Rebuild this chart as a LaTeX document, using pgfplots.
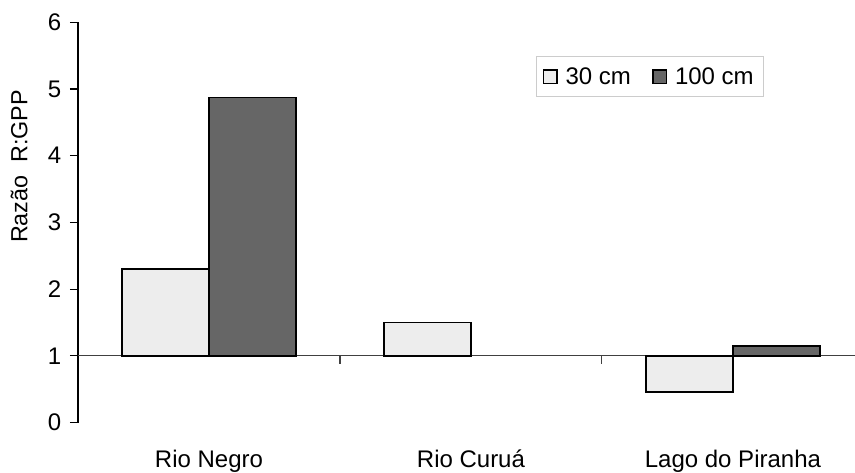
\documentclass[border=0pt]{standalone}
\usepackage{pgfplots}
\pgfplotsset{compat=1.18}
\usepackage{fontspec}
\setmainfont{Liberation Sans}
\begin{document}
\begin{tikzpicture}
\useasboundingbox (-58.5pt,-37pt) rectangle (582.75pt,317pt);
\begin{axis}[
  at={(0,0)}, anchor=south west,
  scale only axis,
  width=582.75pt, height=300.3pt,
  font=\fontsize{18}{21}\selectfont,
  y coord trafo/.code={\pgfmathparse{#1-1}},
  y coord inv trafo/.code={\pgfmathparse{#1+1}},
  ymin=0, ymax=6,
  xmin=-0.5, xmax=2.466,
  ytick={0,1,2,3,4,5,6},
  yticklabels={0,1,2,3,4,5,6},
  xtick={0,1,2},
  xticklabels={Rio Negro, Rio Curuá, Lago do Piranha},
  axis x line*=bottom,
  axis y line*=left,
  x axis line style={draw=none},
  y axis line style={-, line width=0.8pt},
  xtick style={draw=none},
  ytick style={line width=0.8pt, black},
  tick align=outside,
  major tick length=6pt,
  xticklabel style={yshift=-11pt},
  yticklabel style={xshift=-3pt},
  ylabel={Razão\ \ R:GPP},
  y label style={at={(axis description cs:-0.0759,0.64)}, anchor=center, rotate=0,
    font=\fontsize{17.5}{20}\selectfont},
  ybar,
  bar width=0.332,
  legend columns=2,
  legend style={at={(0.589,0.915)}, anchor=north west, draw=black!20, line width=0.6pt,
    font=\fontsize{18}{21}\selectfont, inner xsep=5pt, inner ysep=6pt,
    /tikz/every odd column/.append style={column sep=4pt},
    /tikz/every even column/.append style={column sep=14pt}},
  legend image code/.code={\draw[#1] (0pt,-5pt) rectangle (10pt,5pt);},
]
\addplot[sharp plot, black!75, line width=0.8pt, forget plot] coordinates {(-0.5,1) (2.466,1)};
\addplot[fill=black!7, draw=black, line width=1.1pt, bar shift=-0.166] coordinates {(0,2.3) (1,1.5) (2,0.46)};
\addplot[fill=black!60, draw=black, line width=1.1pt, bar shift=0.166] coordinates {(0,4.87) (2,1.15)};
\legend{30 cm, 100 cm}
\draw[black!75, line width=0.8pt] (axis cs:0.5,1) -- ([yshift=-6pt]axis cs:0.5,1);
\draw[black!75, line width=0.8pt] (axis cs:1.5,1) -- ([yshift=-6pt]axis cs:1.5,1);
\end{axis}
\end{tikzpicture}
\end{document}
